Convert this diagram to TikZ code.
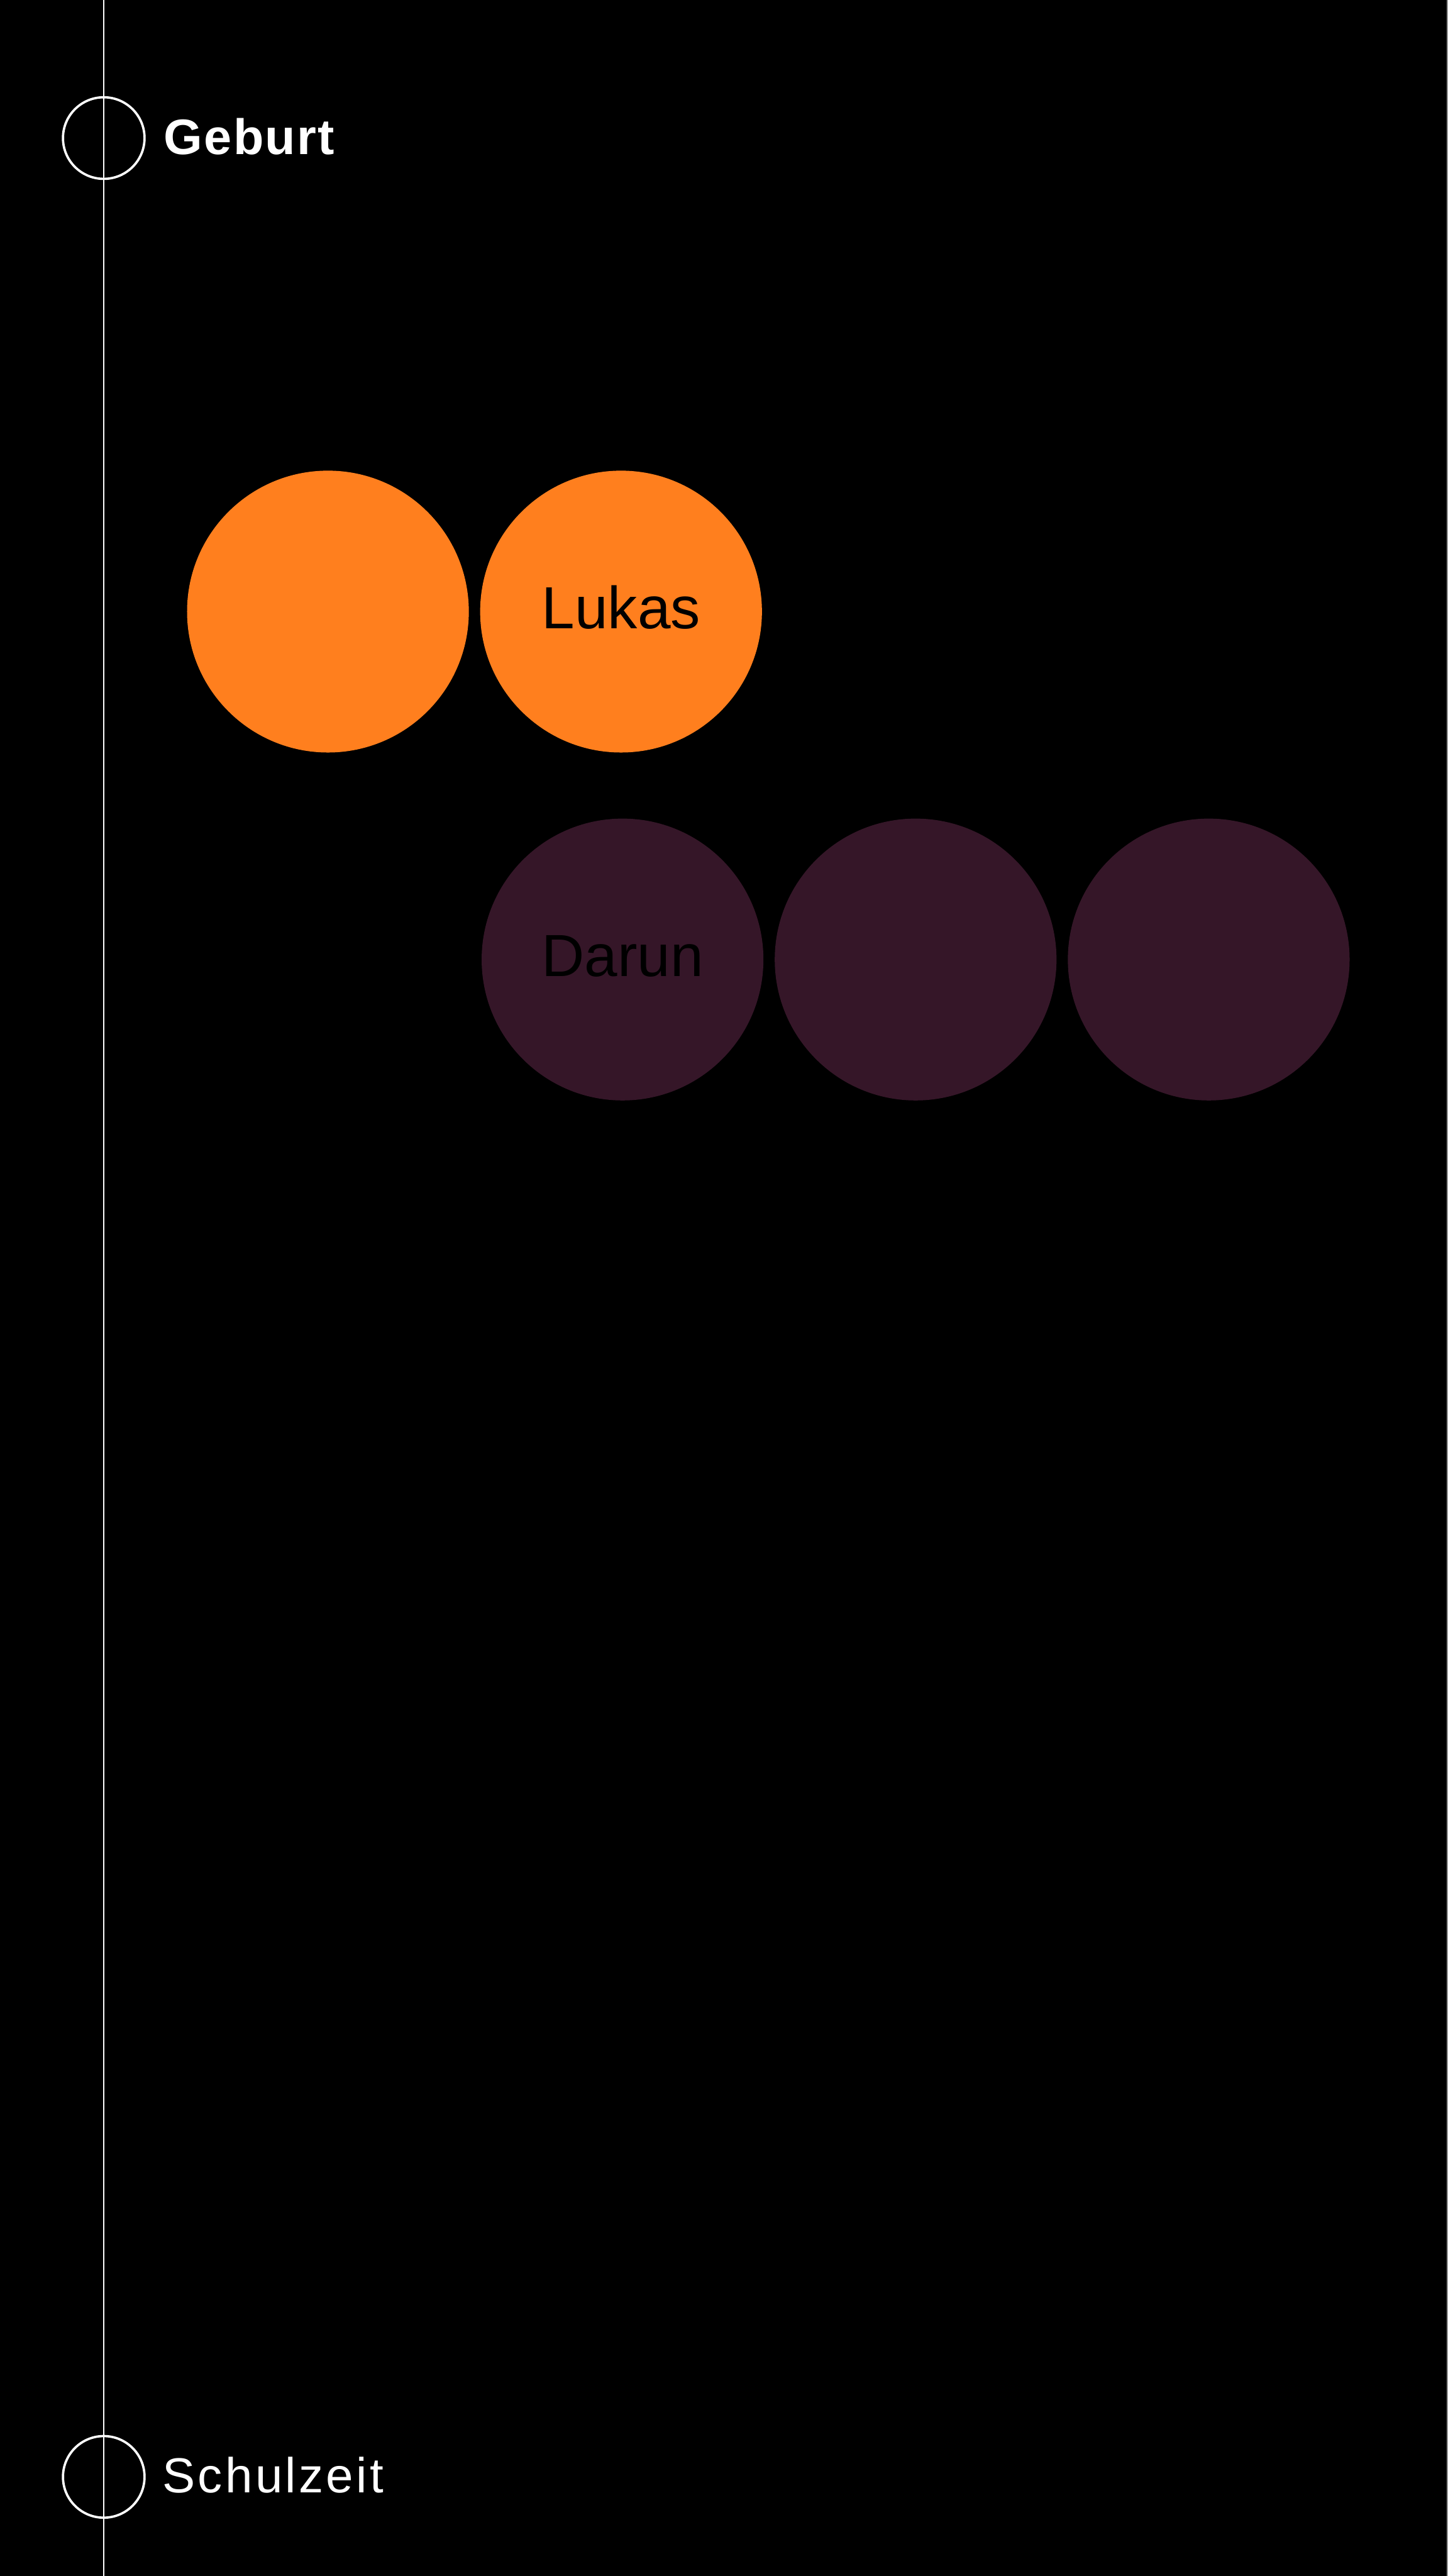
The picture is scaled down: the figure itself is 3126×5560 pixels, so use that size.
\documentclass[tikz,border=0pt]{standalone}
\usepackage{fontspec}
\setmainfont{Liberation Sans}
\usetikzlibrary{positioning}

\definecolor{lukasorange}{HTML}{FF7F1E}
\definecolor{darunpurple}{HTML}{351628}
\definecolor{edgegray}{HTML}{9A9A9A}

\tikzset{
    person/.style={circle, minimum size=6.08cm, inner sep=0pt,
        text height=0.91cm, text depth=0.17cm, text=black,
        font=\fontsize{36.5}{40}\selectfont},
    orangedot/.style={person, fill=lukasorange},
    purpledot/.style={person, fill=darunpurple},
    milestone/.style={circle, draw=white, line width=0.05cm,
        minimum size=1.76cm, inner sep=0pt},
    phase/.style={text=white, anchor=base west, inner sep=0pt}
}

\begin{document}
\begin{tikzpicture}[x=0.01cm, y=-0.01cm]

    % Background
    \fill[black] (0,0) rectangle (3126,5560);
    \useasboundingbox (0,0) rectangle (3126,5560);
    \draw[edgegray, line width=0.02cm] (3125,0) -- (3125,5560);

    % Timeline
    \coordinate (top) at (224,0);
    \coordinate (bottom) at (224,5560);
    \draw[white, line width=0.03cm] (top) -- (bottom);

    % Milestones
    \node[milestone] (geburt) at (224,298) {};
    \node[milestone] (schulzeit) at (224,5346) {};
    \node[phase, font=\bfseries\fontsize{30.6}{34}\selectfont\addfontfeatures{LetterSpace=3}] (geburtlabel) at (353,333) {Geburt};
    \node[phase, font=\fontsize{30.2}{34}\selectfont\addfontfeatures{LetterSpace=5.5}] (schulzeitlabel) at (350,5380) {Schulzeit};

    % Orange row
    \node[orangedot] (o1) at (708,1320) {};
    \node[orangedot, right=0.23cm of o1] (lukas) {Lukas};

    % Purple row
    \node[purpledot] (darun) at (1344,2071) {Darun};
    \node[purpledot, right=0.23cm of darun] (d2) {};
    \node[purpledot, right=0.23cm of d2] (d3) {};

\end{tikzpicture}
\end{document}
